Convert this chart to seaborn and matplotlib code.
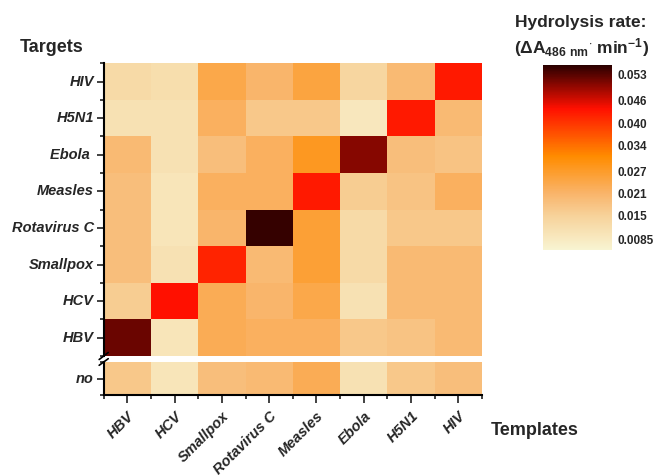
import matplotlib
matplotlib.use("Agg")
import matplotlib.pyplot as plt
import numpy as np
import pandas as pd
import seaborn as sns
from matplotlib.colors import LinearSegmentedColormap, Normalize
from matplotlib.ticker import FixedLocator

templates = ["HBV", "HCV", "Smallpox", "Rotavirus C", "Measles", "Ebola", "H5N1", "HIV"]
targets = ["HIV", "H5N1", "Ebola ", "Measles", "Rotavirus C", "Smallpox", "HCV", "HBV"]

# hydrolysis rates, rows = targets (top to bottom), cols = templates
rate_hiv = [0.013, 0.012, 0.024, 0.021, 0.025, 0.014, 0.020, 0.043]
rate_h5n1 = [0.011, 0.011, 0.022, 0.017, 0.017, 0.0095, 0.043, 0.020]
rate_ebola = [0.020, 0.011, 0.019, 0.022, 0.028, 0.0505, 0.019, 0.018]
rate_measles = [0.019, 0.010, 0.022, 0.022, 0.043, 0.016, 0.018, 0.022]
rate_rota = [0.019, 0.010, 0.021, 0.055, 0.026, 0.013, 0.017, 0.017]
rate_smallpox = [0.019, 0.011, 0.042, 0.020, 0.026, 0.013, 0.020, 0.020]
rate_hcv = [0.016, 0.044, 0.023, 0.021, 0.024, 0.011, 0.020, 0.020]
rate_hbv = [0.052, 0.010, 0.023, 0.022, 0.022, 0.017, 0.018, 0.020]
rate_no = [0.017, 0.010, 0.019, 0.020, 0.023, 0.011, 0.017, 0.019]

cbar_ticks = [0.0085, 0.015, 0.021, 0.027, 0.034, 0.040, 0.046, 0.053]
cbar_labels = ["0.0085", "0.015", "0.021", "0.027", "0.034", "0.040", "0.046", "0.053"]

sns.set_style("white")
plt.rcParams["font.family"] = ["Liberation Sans", "DejaVu Sans"]
plt.rcParams["mathtext.fontset"] = "custom"
plt.rcParams["mathtext.rm"] = "Liberation Sans:bold"
plt.rcParams["mathtext.bf"] = "Liberation Sans:bold"
plt.rcParams["mathtext.default"] = "rm"

vmin, vmax = 0.0058, 0.0557
cmap = LinearSegmentedColormap.from_list(
    "hydro",
    [(0.0, "#F8F4D2"), (0.184, "#F7D29A"), (0.305, "#F9B46A"),
     (0.505, "#FF8C00"), (0.765, "#FF1000"), (1.0, "#2A0000")],
)

main = pd.DataFrame(
    [rate_hiv, rate_h5n1, rate_ebola, rate_measles, rate_rota,
     rate_smallpox, rate_hcv, rate_hbv],
    index=targets, columns=templates,
)
nodf = pd.DataFrame([rate_no], index=["no"], columns=templates)

fig = plt.figure(figsize=(6.53, 4.75), dpi=100)
ax = fig.add_axes([0.1588, 0.2505, 0.5793, 0.6162])
ax2 = fig.add_axes([0.1588, 0.1684, 0.5793, 0.0695])
cax = fig.add_axes([0.831, 0.4737, 0.1057, 0.3895])

sns.heatmap(main, ax=ax, cmap=cmap, vmin=vmin, vmax=vmax, cbar=False)
sns.heatmap(nodf, ax=ax2, cmap=cmap, vmin=vmin, vmax=vmax, cbar=False)

tick_font = dict(fontsize=10.5, fontweight="bold", fontstyle="italic")
for a, df in ((ax, main), (ax2, nodf)):
    a.spines["left"].set_visible(True)
    a.spines["left"].set_linewidth(1.5)
    a.spines["left"].set_color("black")
    a.set_yticks(np.arange(len(df)) + 0.5)
    a.set_yticklabels(df.index, rotation=0, **tick_font)
    a.yaxis.set_minor_locator(FixedLocator(np.arange(len(df) + 1)))
    a.tick_params(axis="y", which="major", left=True, length=5, width=1.3,
                  color="#333333", direction="out", pad=2)
    a.tick_params(axis="y", which="minor", left=True, length=3, width=1.3,
                  color="#333333", direction="out")
    a.set_xlabel("")
    a.set_ylabel("")

ax.set_xticks([])
ax2.spines["bottom"].set_visible(True)
ax2.spines["bottom"].set_linewidth(1.5)
ax2.spines["bottom"].set_color("black")
ax2.set_xticks(np.arange(len(templates)) + 0.5)
ax2.set_xticklabels(templates, rotation=45, ha="right", rotation_mode="anchor", **tick_font)
ax2.xaxis.set_minor_locator(FixedLocator(np.arange(len(templates) + 1)))
ax2.tick_params(axis="x", which="major", bottom=True, length=6, width=1.3,
                color="#333333", direction="out", pad=4)
ax2.tick_params(axis="x", which="minor", bottom=True, length=3, width=1.3,
                color="#333333", direction="out")

# axis break marks on the left spine
for a, y in ((ax, 0.0), (ax2, 1.0)):
    dy = 0.012 if a is ax else 0.1
    a.plot([-0.012, 0.012], [y - dy, y + dy], transform=a.transAxes,
           color="black", lw=1.2, clip_on=False)

sm = plt.cm.ScalarMappable(norm=Normalize(vmin, vmax), cmap=cmap)
cb = fig.colorbar(sm, cax=cax)
cb.outline.set_visible(False)
cb.set_ticks(cbar_ticks)
cb.set_ticklabels(cbar_labels)
cax.tick_params(length=0, pad=4, labelsize=8.5)
for t in cax.get_yticklabels():
    t.set_fontweight("bold")

fig.text(0.030, 0.899, "Targets", fontsize=13, fontweight="bold", va="center")
fig.text(0.751, 0.094, "Templates", fontsize=13, fontweight="bold", va="center")
fig.text(0.890, 0.953, "Hydrolysis rate:", fontsize=12.5, fontweight="bold",
         ha="center", va="center")
fig.text(0.890, 0.899, r"($\Delta$A$_{486\ nm}$$^{\cdot}$ min$^{-1}$)", fontsize=12.5,
         fontweight="bold", ha="center", va="center")

fig.savefig("out.png", dpi=100)
